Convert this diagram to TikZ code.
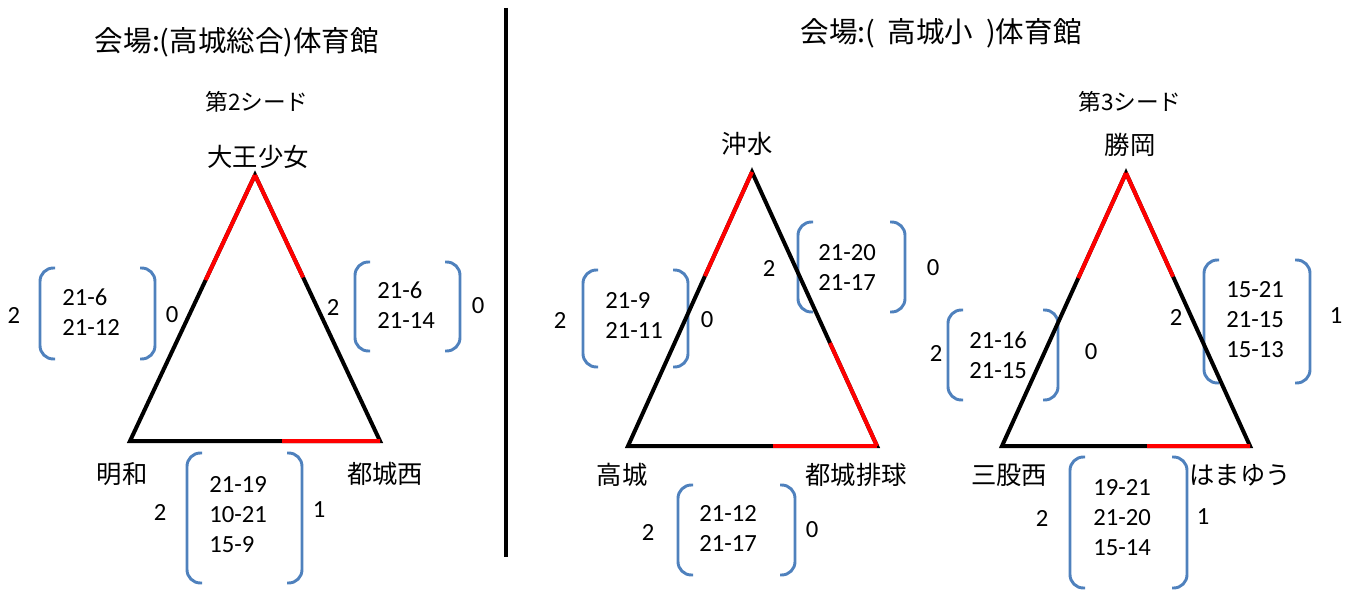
\documentclass[tikz,border=0pt]{standalone}
\usepackage{fontspec}
\setmainfont{Carlito}
\newfontfamily\jp{Noto Sans CJK JP}
\usetikzlibrary{calc}
\definecolor{bblue}{HTML}{4F81BD}
\tikzset{
  edge/.style={line width=3pt, black, line join=miter},
  win/.style={line width=3pt, red},
  brk/.style={line width=2.2pt, draw=bblue, rounded corners=10pt},
  score/.style={anchor=west, align=left, font=\fontsize{18.5}{22.5}\selectfont, inner sep=0pt},
  pts/.style={font=\fontsize{18.5}{22.5}\selectfont, inner sep=0pt},
  team/.style={font=\jp\fontsize{19}{23}\selectfont, inner sep=0pt},
  title/.style={font=\jp\fontsize{21.4}{26}\selectfont, inner sep=0pt},
  seed/.style={font=\jp\fontsize{17}{21}\selectfont, inner sep=0pt},
}
\newcommand\scorebox[4]{%
  \draw[brk] ({#1+15},#3) -- (#1,#3) -- (#1,#4) -- ({#1+15},#4);
  \draw[brk] ({#2-15},#3) -- (#2,#3) -- (#2,#4) -- ({#2-15},#4);
}
\begin{document}
\begin{tikzpicture}[x=0.75pt,y=-0.75pt]
\useasboundingbox (0,0) rectangle (1356,592);

% ---------- titles ----------
\node[title] (t1) at (237,42) {会場:(高城総合)体育館};
\node[title] (t2) at (941,33) {会場:(\ \ 高城小\ \ )体育館};
\node[seed] (s2) at (257,102) {第2シード};
\node[seed] (s3) at (1130,102) {第3シード};

% divider
\coordinate (d1) at (506,8);
\coordinate (d2) at (506,557);
\draw[line width=2.4pt] (d1) -- (d2);

% ---------- left triangle ----------
\coordinate (A1) at (255,175);
\coordinate (L1) at (130,441);
\coordinate (R1) at (380,441);
\node[team] (n11) at (258,157) {大王少女};
\node[team] (n12) at (122,474) {明和};
\node[team] (n13) at (385,474) {都城西};

\scorebox{40}{155}{268}{359}
\node[score] (sc11) at (62,312.5) {21-6\\21-12};
\node[pts] (p11a) at (14,315) {2};
\node[pts] (p11b) at (172,315) {0};

\scorebox{355}{460}{262}{351}
\node[score] (sc12) at (377,305) {21-6\\21-14};
\node[pts] (p12a) at (333,307) {2};
\node[pts] (p12b) at (478,306) {0};

\scorebox{187}{302}{453}{583}
\node[score] (sc13) at (209,514.5) {21-19\\10-21\\15-9};
\node[pts] (p13a) at (160,512) {2};
\node[pts] (p13b) at (319,510) {1};

\draw[edge] (A1) -- (L1) -- (R1) -- cycle;
\draw[win] (A1) -- ($(A1)!0.395!(L1)$);
\draw[win] (A1) -- ($(A1)!0.385!(R1)$);
\draw[win] (R1) -- ($(R1)!0.392!(L1)$);

% ---------- middle triangle ----------
\coordinate (A2) at (752,172);
\coordinate (L2) at (628,446);
\coordinate (R2) at (877,446);
\node[team] (n21) at (747,144) {沖水};
\node[team] (n22) at (622,475) {高城};
\node[team] (n23) at (856,475) {都城排球};

\scorebox{583}{688}{270}{367}
\node[score] (sc21) at (605,315) {21-9\\21-11};
\node[pts] (p21a) at (560,320) {2};
\node[pts] (p21b) at (707,320) {0};

\scorebox{798}{905}{222}{312}
\node[score] (sc22) at (818,267) {21-20\\21-17};
\node[pts] (p22a) at (769,268) {2};
\node[pts] (p22b) at (933,268) {0};

\scorebox{678}{795}{485}{575}
\node[score] (sc23) at (699,528.5) {21-12\\21-17};
\node[pts] (p23a) at (648,532) {2};
\node[pts] (p23b) at (812,530) {0};

\draw[edge] (A2) -- (L2) -- (R2) -- cycle;
\draw[win] (A2) -- ($(A2)!0.38!(L2)$);
\draw[win] (R2) -- ($(R2)!0.376!(A2)$);
\draw[win] (R2) -- ($(R2)!0.418!(L2)$);

% ---------- right triangle ----------
\coordinate (A3) at (1126,173);
\coordinate (L3) at (1002,446);
\coordinate (R3) at (1250,446);
\node[team] (n31) at (1130,145) {勝岡};
\node[team] (n32) at (1009,475) {三股西};
\node[team] (n33) at (1240,475) {はまゆう};

\scorebox{948}{1058}{310}{400}
\node[score] (sc31) at (969,355.5) {21-16\\21-15};
\node[pts] (p31a) at (936,353) {2};
\node[pts] (p31b) at (1091,352) {0};

\scorebox{1204}{1310}{260}{383}
\node[score] (sc32) at (1226,320) {15-21\\21-15\\15-13};
\node[pts] (p32a) at (1176,317) {2};
\node[pts] (p32b) at (1336,316) {1};

\scorebox{1070}{1187}{457}{588}
\node[score] (sc33) at (1093,518) {19-21\\21-20\\15-14};
\node[pts] (p33a) at (1042,518) {2};
\node[pts] (p33b) at (1203,517) {1};

\draw[edge] (A3) -- (L3) -- (R3) -- cycle;
\draw[win] (A3) -- ($(A3)!0.385!(L3)$);
\draw[win] (A3) -- ($(A3)!0.38!(R3)$);
\draw[win] (R3) -- ($(R3)!0.415!(L3)$);
\end{tikzpicture}
\end{document}
